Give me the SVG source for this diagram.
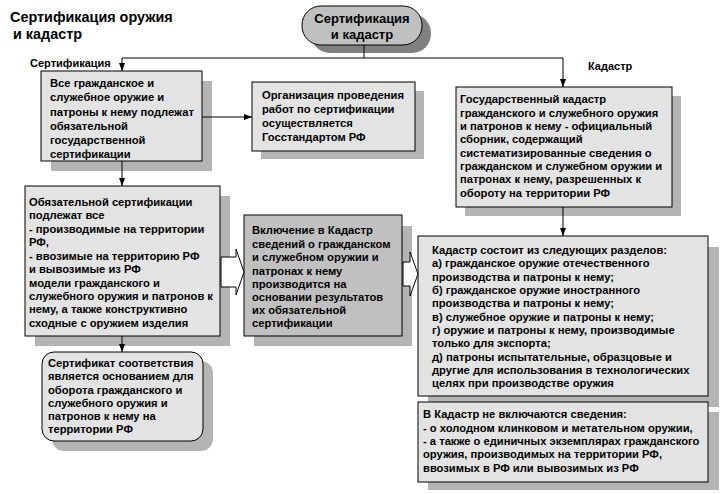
<svg xmlns="http://www.w3.org/2000/svg" width="721" height="494" viewBox="0 0 721 494">
<defs>
<style>
text{font-family:"Liberation Sans",Arial,sans-serif;font-weight:bold;fill:#000}
.t{font-size:11.2px}
.title{font-size:14.4px}
.lbl{font-size:11px}
.pt{font-size:13px}
.box{fill:#e3e3e3;stroke:#000;stroke-width:1}
.dark{fill:#c0c0c0;stroke:#000;stroke-width:1}
.sh{fill:#b4b4b4}
.line{fill:none;stroke:#000;stroke-width:1}
.blk{fill:#fff;stroke:#000;stroke-width:1}
</style>
<marker id="ah" viewBox="0 0 8 8" refX="8" refY="4" markerWidth="8" markerHeight="8" markerUnits="userSpaceOnUse" orient="auto">
<path d="M0,1 L8,4 L0,7 Z" fill="#000"/>
</marker>
</defs>
<rect width="721" height="494" fill="#fff"/>

<g id="title">
<text class="title" x="10" y="22">Сертификация оружия</text>
<text class="title" x="13" y="39">и кадастр</text>
</g>

<g id="root">
<rect x="311" y="14" width="120" height="39" rx="19" fill="#808080"/>
<rect x="302" y="6" width="120" height="39" rx="19" class="dark"/>
<text class="pt" x="362" y="23" text-anchor="middle">Сертификация</text>
<text class="pt" x="362" y="39" text-anchor="middle">и кадастр</text>
</g>

<g id="n1">
<rect x="51" y="81" width="161" height="90" class="sh"/>
<rect x="41" y="71" width="161" height="90" class="box"/>
<text class="t"><tspan x="50" y="87">Все гражданское и</tspan><tspan x="50" y="101">служебное оружие и</tspan><tspan x="50" y="116">патроны к нему подлежат</tspan><tspan x="50" y="130">обязательной</tspan><tspan x="50" y="144">государственной</tspan><tspan x="50" y="158">сертификации</tspan></text>
</g>

<g id="n2">
<rect x="261" y="91" width="163" height="68" class="sh"/>
<rect x="252" y="82" width="163" height="69" class="box"/>
<text class="t"><tspan x="262" y="99">Организация проведения</tspan><tspan x="262" y="113">работ по сертификации</tspan><tspan x="262" y="127">осуществляется</tspan><tspan x="262" y="141">Госстандартом РФ</tspan></text>
</g>

<g id="n3">
<rect x="465" y="96" width="216" height="120" class="sh"/>
<rect x="456" y="87" width="216" height="120" class="box"/>
<text class="t"><tspan x="460" y="103">Государственный кадастр</tspan><tspan x="460" y="117">гражданского и служебного оружия</tspan><tspan x="460" y="130">и патронов к нему - официальный</tspan><tspan x="460" y="143">сборник, содержащий</tspan><tspan x="460" y="157">систематизированные сведения о</tspan><tspan x="460" y="170">гражданском и служебном оружии и</tspan><tspan x="460" y="183">патронах к нему, разрешенных к</tspan><tspan x="460" y="197">обороту на территории РФ</tspan></text>
</g>

<g id="n4">
<rect x="35" y="196" width="195" height="150" class="sh"/>
<rect x="25" y="186" width="195" height="150" class="box"/>
<text class="t"><tspan x="29" y="206">Обязательной сертификации</tspan><tspan x="29" y="219">подлежат все</tspan><tspan x="29" y="233">- производимые на территории</tspan><tspan x="29" y="246">РФ,</tspan><tspan x="29" y="260">- ввозимые на территорию РФ</tspan><tspan x="29" y="273">и вывозимые из РФ</tspan><tspan x="29" y="287">модели гражданского и</tspan><tspan x="29" y="300">служебного оружия и патронов к</tspan><tspan x="29" y="313">нему, а также конструктивно</tspan><tspan x="29" y="327">сходные с оружием изделия</tspan></text>
</g>

<g id="n5">
<rect x="52" y="361" width="161" height="90" rx="12" class="sh"/>
<rect x="42" y="352" width="161" height="89" rx="12" class="box"/>
<text class="t"><tspan x="48" y="367">Сертификат соответствия</tspan><tspan x="48" y="380">является основанием для</tspan><tspan x="48" y="394">оборота гражданского и</tspan><tspan x="48" y="407">служебного оружия и</tspan><tspan x="48" y="420">патронов к нему на</tspan><tspan x="48" y="433">территории РФ</tspan></text>
</g>

<g id="n6">
<rect x="254" y="226" width="158" height="120" class="sh"/>
<rect x="244" y="215" width="158" height="121" class="dark"/>
<text class="t"><tspan x="252" y="234">Включение в Кадастр</tspan><tspan x="252" y="248">сведений о гражданском</tspan><tspan x="252" y="261">и служебном оружии и</tspan><tspan x="252" y="275">патронах к нему</tspan><tspan x="252" y="288">производится на</tspan><tspan x="252" y="301">основании результатов</tspan><tspan x="252" y="314">их обязательной</tspan><tspan x="252" y="327">сертификации</tspan></text>
</g>

<g id="n7">
<rect x="428" y="247" width="291" height="160" class="sh"/>
<rect x="418" y="236" width="290" height="160" class="box"/>
<text class="t"><tspan x="432" y="254">Кадастр состоит из следующих разделов:</tspan><tspan x="432" y="267">а) гражданское оружие отечественного</tspan><tspan x="432" y="281">производства и патроны к нему;</tspan><tspan x="432" y="294">б) гражданское оружие иностранного</tspan><tspan x="432" y="307">производства и патроны к нему;</tspan><tspan x="432" y="321">в) служебное оружие и патроны к нему;</tspan><tspan x="432" y="334">г) оружие и патроны к нему, производимые</tspan><tspan x="432" y="347">только для экспорта;</tspan><tspan x="432" y="361">д) патроны испытательные, образцовые и</tspan><tspan x="432" y="374">другие для использования в технологических</tspan><tspan x="432" y="387">целях при производстве оружия</tspan></text>
</g>

<g id="n8">
<rect x="428" y="412" width="291" height="78" class="sh"/>
<rect x="418" y="402" width="290" height="80" class="box"/>
<text class="t"><tspan x="423" y="418">В Кадастр не включаются сведения:</tspan><tspan x="423" y="432">- о холодном клинковом и метательном оружии,</tspan><tspan x="423" y="445">- а также о единичных экземплярах гражданского</tspan><tspan x="423" y="458">оружия, производимых на территории РФ,</tspan><tspan x="423" y="472">ввозимых в РФ или вывозимых из РФ</tspan></text>
</g>

<g id="connectors">
<path class="line" d="M364,45 V58"/>
<path class="line" d="M122,58 H563"/>
<path class="line" d="M122,58 V71" marker-end="url(#ah)"/>
<path class="line" d="M563,58 V87" marker-end="url(#ah)"/>
<path class="line" d="M202,117 H252" marker-end="url(#ah)"/>
<path class="line" d="M122,161 V186" marker-end="url(#ah)"/>
<path class="line" d="M122,336 V352" marker-end="url(#ah)"/>
<path class="line" d="M563,207 V236" marker-end="url(#ah)"/>
<path class="blk" d="M221,257 H236 V249 L244,272 L236,295 V287 H221 Z"/>
<path class="blk" d="M403,262 H410 V252 L418,274 L410,296 V286 H403 Z"/>
<text class="lbl" x="30" y="67">Сертификация</text>
<text class="lbl" x="588" y="70">Кадастр</text>
</g>
</svg>
